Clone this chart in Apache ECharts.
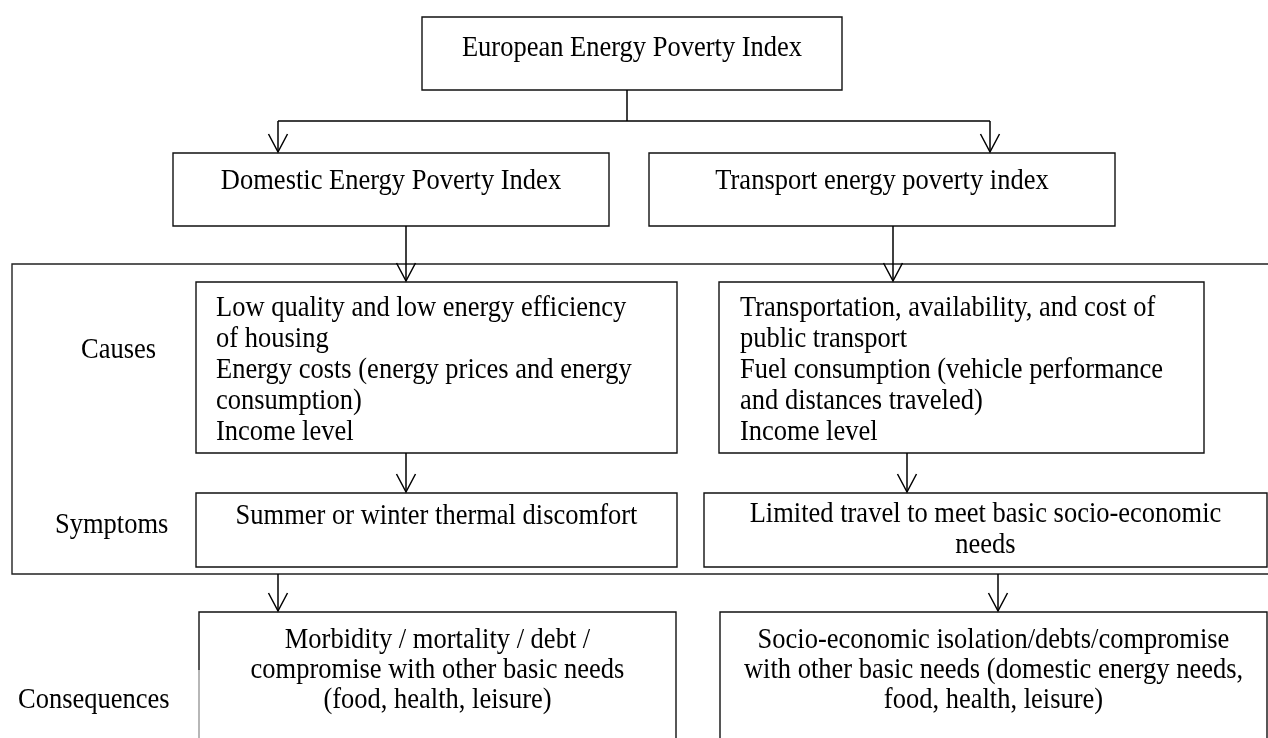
<!DOCTYPE html>
<html>
<head>
<meta charset="utf-8">
<title>European Energy Poverty Index</title>
<script src="https://cdn.jsdelivr.net/npm/echarts@6/dist/echarts.min.js"></script>
<style>
  html, body { margin: 0; padding: 0; background: #fff; }
  #main { width: 1268px; height: 738px; }
</style>
</head>
<body>
<div id="main"></div>
<script>
// texts of the diagram
const indexTitles = ['European Energy Poverty Index', 'Domestic Energy Poverty Index', 'Transport energy poverty index'];
const rowLabels = ['Causes', 'Symptoms', 'Consequences'];
const domesticCauses = ['Low quality and low energy efficiency', 'of housing', 'Energy costs (energy prices and energy', 'consumption)', 'Income level'];
const transportCauses = ['Transportation, availability, and cost of', 'public transport', 'Fuel consumption (vehicle performance', 'and distances traveled)', 'Income level'];
const domesticSymptoms = ['Summer or winter thermal discomfort'];
const transportSymptoms = ['Limited travel to meet basic socio-economic', 'needs'];
const domesticConsequences = ['Morbidity / mortality / debt /', 'compromise with other basic needs', '(food, health, leisure)'];
const transportConsequences = ['Socio-economic isolation/debts/compromise', 'with other basic needs (domestic energy needs,', 'food, health, leisure)'];

// layout, in page units read by the hidden axes
const frame = [12, 264, 1275, 574];
const boxes = [
  { rect: [422, 17, 842, 90], lines: [indexTitles[0]], align: 'center', top: 48, gap: 31 },
  { rect: [173, 153, 609, 226], lines: [indexTitles[1]], align: 'center', top: 181, gap: 31 },
  { rect: [649, 153, 1115, 226], lines: [indexTitles[2]], align: 'center', top: 181, gap: 31 },
  { rect: [196, 282, 677, 453], lines: domesticCauses, align: 'left', textX: 216, top: 308, gap: 31 },
  { rect: [719, 282, 1204, 453], lines: transportCauses, align: 'left', textX: 740, top: 308, gap: 31 },
  { rect: [196, 493, 677, 567], lines: domesticSymptoms, align: 'center', top: 516.5, gap: 31 },
  { rect: [704, 493, 1267, 567], lines: transportSymptoms, align: 'center', top: 514, gap: 31 },
  { rect: [199, 612, 676, 780], lines: domesticConsequences, align: 'center', top: 640.5, gap: 30, fadeFrom: 670 },
  { rect: [720, 612, 1267, 780], lines: transportConsequences, align: 'center', top: 640.5, gap: 30 }
];
const labels = [
  { text: rowLabels[0], x: 81, y: 350.5 },
  { text: rowLabels[1], x: 55, y: 525.5 },
  { text: rowLabels[2], x: 18, y: 700.5 }
];
const connectors = [
  { pts: [[627, 90], [627, 121]], arrow: false },
  { pts: [[278, 121], [990, 121]], arrow: false },
  { pts: [[278, 121], [278, 152]], arrow: true },
  { pts: [[990, 121], [990, 152]], arrow: true },
  { pts: [[406, 226], [406, 281]], arrow: true },
  { pts: [[893, 226], [893, 281]], arrow: true },
  { pts: [[406, 453], [406, 492]], arrow: true },
  { pts: [[907, 453], [907, 492]], arrow: true },
  { pts: [[278, 574], [278, 611]], arrow: true },
  { pts: [[998, 574], [998, 611]], arrow: true }
];

const fontFamily = '"Liberation Serif", "Times New Roman", serif';
const fontSize = 26.5;
const stretchY = 1.12; // glyphs in the figure are a little taller than wide
const ink = '#000';

let chart = echarts.init(document.getElementById('main'));

function textEl(t, x, y, align) {
  return {
    type: 'text',
    x: x,
    y: y,
    scaleY: stretchY,
    style: { text: t, x: 0, y: 0, fill: ink, fontSize: fontSize, fontFamily: fontFamily, align: align, verticalAlign: 'middle' }
  };
}

function renderFrame(params, api) {
  const p0 = api.coord([api.value(0), api.value(1)]);
  const p1 = api.coord([api.value(2), api.value(3)]);
  return {
    type: 'rect',
    shape: { x: p0[0], y: p0[1], width: p1[0] - p0[0], height: p1[1] - p0[1] },
    style: { fill: 'none', stroke: '#222', lineWidth: 1.4 }
  };
}

function renderBox(params, api) {
  const b = boxes[params.dataIndex];
  const p0 = api.coord([api.value(0), api.value(1)]);
  const p1 = api.coord([api.value(2), api.value(3)]);
  const children = [{
    type: 'rect',
    shape: { x: p0[0], y: p0[1], width: p1[0] - p0[0], height: p1[1] - p0[1] },
    style: { fill: '#fff', stroke: '#111', lineWidth: 1.4 }
  }];
  if (b.fadeFrom) {
    const f = api.coord([b.rect[0], b.fadeFrom]);
    children.push({
      type: 'line',
      shape: { x1: p0[0], y1: f[1], x2: p0[0], y2: p1[1] },
      style: { stroke: '#d0d0d0', lineWidth: 1.6 }
    });
  }
  b.lines.forEach(function (t, i) {
    const tx = b.align === 'center' ? (p0[0] + p1[0]) / 2 : api.coord([b.textX, 0])[0];
    const ty = api.coord([0, b.top + i * b.gap])[1];
    children.push(textEl(t, tx, ty, b.align));
  });
  return { type: 'group', children: children };
}

function renderLabel(params, api) {
  const p = api.coord([api.value(0), api.value(1)]);
  return textEl(labels[params.dataIndex].text, p[0], p[1], 'left');
}

function renderConnector(params, api) {
  const c = connectors[params.dataIndex];
  const pts = c.pts.map(function (p) { return api.coord(p); });
  const children = [{
    type: 'polyline',
    shape: { points: pts },
    style: { fill: 'none', stroke: ink, lineWidth: 1.5 }
  }];
  if (c.arrow) {
    const tip = pts[pts.length - 1];
    children.push({
      type: 'polyline',
      shape: { points: [[tip[0] - 9.5, tip[1] - 18], tip, [tip[0] + 9.5, tip[1] - 18]] },
      style: { fill: 'none', stroke: ink, lineWidth: 1.5 }
    });
  }
  return { type: 'group', children: children };
}

let option = {
  animation: false,
  backgroundColor: '#fff',
  grid: { left: 0, right: 0, top: 0, bottom: 0 },
  xAxis: { type: 'value', min: 0, max: 1268, show: false },
  yAxis: { type: 'value', min: 0, max: 738, inverse: true, show: false },
  series: [
    { type: 'custom', renderItem: renderFrame, data: [frame], clip: false, z: 1 },
    { type: 'custom', renderItem: renderBox, data: boxes.map(function (b) { return b.rect; }), clip: false, z: 2 },
    { type: 'custom', renderItem: renderLabel, data: labels.map(function (l) { return [l.x, l.y]; }), clip: false, z: 3 },
    { type: 'custom', renderItem: renderConnector, data: connectors.map(function (c) { return c.pts[0]; }), clip: false, z: 4 }
  ]
};

chart.setOption(option);
</script>
</body>
</html>
